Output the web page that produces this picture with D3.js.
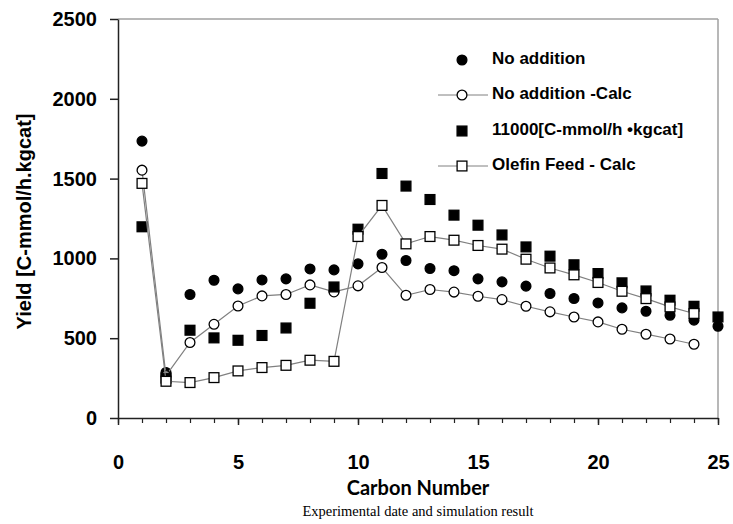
<!DOCTYPE html>
<html>
<head>
<meta charset="utf-8">
<script src="https://cdn.jsdelivr.net/npm/d3@7"></script>
<style>
  body { margin: 0; background: #fff; }
  svg { display: block; }
</style>
</head>
<body>
<svg id="chart" width="733" height="524"></svg>
<script>
// Carbon numbers on the x axis
const carbon = [1, 2, 3, 4, 5, 6, 7, 8, 9, 10, 11, 12, 13, 14, 15, 16, 17, 18, 19, 20, 21, 22, 23, 24, 25];

// Measured / calculated yields [C-mmol/h.kgcat]
const noAddition     = [1735, 285, 774, 863, 809, 865, 872, 934, 928, 966, 1026, 987, 937, 923, 872, 853, 826, 780, 749, 721, 690, 669, 644, 613, 575];
const noAdditionCalc = [1553, 265, 473, 587, 702, 765, 774, 834, 790, 828, 943, 769, 805, 789, 763, 742, 700, 665, 633, 602, 556, 525, 495, 462];
const olefin11000    = [1198, 250, 550, 502, 487, 517, 564, 719, 821, 1183, 1532, 1453, 1369, 1271, 1208, 1147, 1072, 1014, 960, 905, 847, 796, 738, 700, 633];
const olefinCalc     = [1470, 230, 222, 253, 295, 316, 330, 362, 355, 1137, 1332, 1091, 1137, 1114, 1081, 1058, 995, 940, 897, 849, 794, 748, 696, 655];

const seriesNames = ["No addition", "No addition -Calc", "11000[C-mmol/h \u2022kgcat]", "Olefin Feed - Calc"];
const xTicks = [0, 5, 10, 15, 20, 25];
const yTicks = [0, 500, 1000, 1500, 2000, 2500];

const svg = d3.select("#chart");
const sans = "'Liberation Sans', Arial, sans-serif";

const x = d3.scaleLinear().domain([0, 25]).range([118, 718]);
const y = d3.scaleLinear().domain([0, 2500]).range([418, 19]);

// Frame: top and right in grey
svg.append("line")
    .attr("x1", x(0)).attr("x2", x(25))
    .attr("y1", y(2500)).attr("y2", y(2500))
    .attr("stroke", "#a0a0a0").attr("stroke-width", 1.5);
svg.append("line")
    .attr("x1", x(25)).attr("x2", x(25))
    .attr("y1", y(2500)).attr("y2", y(0))
    .attr("stroke", "#a0a0a0").attr("stroke-width", 1.5);

// Y axis
const yAxis = svg.append("g")
    .attr("transform", `translate(${x(0)},0)`)
    .call(d3.axisLeft(y).tickValues(yTicks).tickFormat(d3.format("d"))
        .tickSize(8).tickPadding(13).tickSizeOuter(0));
yAxis.select(".domain").attr("stroke", "#222").attr("stroke-width", 1.5);
yAxis.selectAll(".tick line").attr("stroke", "#222").attr("stroke-width", 1.5);
yAxis.selectAll("text")
    .attr("fill", "#000")
    .style("font-family", sans)
    .style("font-weight", "bold")
    .style("font-size", "20px");

// X axis: minor ticks at every carbon number, major with labels
const xMinor = svg.append("g")
    .attr("transform", `translate(0,${y(0)})`)
    .call(d3.axisBottom(x).tickValues(d3.range(0, 26)).tickSize(5).tickFormat("").tickSizeOuter(0));
xMinor.select(".domain").attr("stroke", "#222").attr("stroke-width", 1.5);
xMinor.selectAll(".tick line").attr("stroke", "#222").attr("stroke-width", 1.2);

const xAxis = svg.append("g")
    .attr("transform", `translate(0,${y(0)})`)
    .call(d3.axisBottom(x).tickValues(xTicks).tickSize(7).tickPadding(30).tickSizeOuter(0));
xAxis.select(".domain").remove();
xAxis.selectAll(".tick line").attr("stroke", "#222").attr("stroke-width", 1.5);
xAxis.selectAll("text")
    .attr("fill", "#000")
    .style("font-family", sans)
    .style("font-weight", "bold")
    .style("font-size", "20px");

// Axis titles and caption
svg.append("text")
    .attr("transform", `translate(26,${(y(0) + y(2500)) / 2 + 3}) rotate(-90)`)
    .attr("text-anchor", "middle")
    .attr("dominant-baseline", "middle")
    .style("font-family", sans)
    .style("font-weight", "bold")
    .style("font-size", "20px")
    .text("Yield [C-mmol/h.kgcat]");

svg.append("text")
    .attr("x", (x(0) + x(25)) / 2)
    .attr("y", 490)
    .attr("text-anchor", "middle")
    .attr("dominant-baseline", "middle")
    .style("font-family", "Lato, 'Open Sans', sans-serif")
    .style("font-weight", "bold")
    .style("font-size", "20px")
    .text("Carbon Number");

svg.append("text")
    .attr("x", (x(0) + x(25)) / 2)
    .attr("y", 513)
    .attr("text-anchor", "middle")
    .attr("dominant-baseline", "middle")
    .style("font-family", "'Liberation Serif', 'Times New Roman', serif")
    .style("font-size", "14.5px")
    .text("Experimental date and simulation result");

// Data as point arrays
const pts = arr => arr.map((v, i) => ({ c: carbon[i], v: v }));
const line = d3.line().x(d => x(d.c)).y(d => y(d.v));

const R = 4.9, S = 9.8;

function drawCircles(data, fill) {
    svg.append("g").selectAll("circle")
        .data(data).enter().append("circle")
        .attr("cx", d => x(d.c)).attr("cy", d => y(d.v)).attr("r", R)
        .attr("fill", fill)
        .attr("stroke", "#000").attr("stroke-width", 1.3);
}
function drawSquares(data, fill) {
    svg.append("g").selectAll("rect")
        .data(data).enter().append("rect")
        .attr("x", d => x(d.c) - S / 2).attr("y", d => y(d.v) - S / 2)
        .attr("width", S).attr("height", S)
        .attr("fill", fill)
        .attr("stroke", "#000").attr("stroke-width", 1.3);
}
function drawLine(data) {
    svg.append("path")
        .datum(data)
        .attr("d", line)
        .attr("fill", "none")
        .attr("stroke", "#808080")
        .attr("stroke-width", 1.2);
}

// Series 1: No addition
drawCircles(pts(noAddition), "#000");
// Series 2: No addition - Calc
drawLine(pts(noAdditionCalc));
drawCircles(pts(noAdditionCalc), "#fff");
// Series 3: 11000 olefin feed
drawSquares(pts(olefin11000), "#000");
// Series 4: Olefin feed - Calc
drawLine(pts(olefinCalc));
drawSquares(pts(olefinCalc), "#fff");

// Legend
const legendX = 462, legendY = [60, 95, 131, 166];
const legend = svg.append("g");
seriesNames.forEach((name, i) => {
    const g = legend.append("g").attr("transform", `translate(${legendX},${legendY[i]})`);
    if (i === 1 || i === 3) {
        g.append("line").attr("x1", -24).attr("x2", 26).attr("y1", 0).attr("y2", 0)
            .attr("stroke", "#808080").attr("stroke-width", 1);
    }
    if (i < 2) {
        g.append("circle").attr("r", R)
            .attr("fill", i === 0 ? "#000" : "#fff")
            .attr("stroke", "#000").attr("stroke-width", 1.3);
    } else {
        g.append("rect").attr("x", -S / 2).attr("y", -S / 2).attr("width", S).attr("height", S)
            .attr("fill", i === 2 ? "#000" : "#fff")
            .attr("stroke", "#000").attr("stroke-width", 1.3);
    }
    g.append("text")
        .attr("x", 30)
        .attr("dominant-baseline", "middle")
        .style("font-family", sans)
        .style("font-weight", "bold")
        .style("font-size", "17px")
        .text(name);
});
</script>
</body>
</html>
